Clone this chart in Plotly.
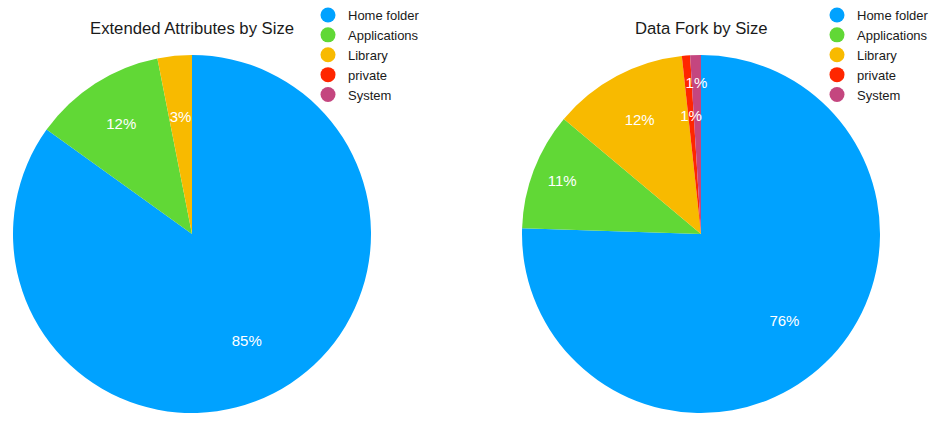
import plotly.graph_objects as go

labels = ["Home folder", "Applications", "Library", "private", "System"]
colors = ["#00A2FF", "#61D836", "#F8BA00", "#FF2600", "#C4467F"]

ext_attr_values = [85.0, 12.0, 3.1, 0.0, 0.0]
data_fork_values = [75.6, 10.6, 12.2, 0.74, 0.97]

titles = ["Extended Attributes by Size", "Data Fork by Size"]

W, H = 939, 423
FONT = "Liberation Sans, Arial, Helvetica, sans-serif"
R = 179          # pie radius in px
CY = 234         # pie centre y in px (from top)

# label placement layers: (layer radius px, hole, indices of slices labelled in this layer)
ext_label_layers = [(R, 0.34, [0, 1]), (130, 0.0, [2])]
fork_label_layers = [(R, 0.34, [0, 2]), (R, 0.66, [1]), (122, 0.0, [3]), (156, 0.0, [4])]

fig = go.Figure()

def dom(cx, r):
    return dict(x=[(cx - r) / W, (cx + r) / W], y=[1 - (CY + r) / H, 1 - (CY - r) / H])

def add_pie(values, cx, layers):
    common = dict(labels=labels, values=values, sort=False, direction="clockwise",
                  rotation=0, showlegend=False)
    fig.add_trace(go.Pie(marker=dict(colors=colors, line=dict(width=0)),
                         textinfo="none", hoverinfo="label+percent",
                         domain=dom(cx, R), **common))
    for r, hole, idx in layers:
        tt = ["%{percent:.0%}" if (i in idx and v > 0) else "" for i, v in enumerate(values)]
        fig.add_trace(go.Pie(
            marker=dict(colors=["rgba(0,0,0,0)"] * len(labels), line=dict(width=0)),
            hole=hole, texttemplate=tt, textposition="inside",
            insidetextorientation="horizontal",
            textfont=dict(family=FONT, size=15, color="white"),
            hoverinfo="skip", domain=dom(cx, r), **common))

add_pie(ext_attr_values, 192, ext_label_layers)
add_pie(data_fork_values, 701, fork_label_layers)

for lg in ["legend", "legend2"]:
    for lab, col in zip(labels, colors):
        fig.add_trace(go.Scatter(
            x=[None], y=[None], mode="markers", name=lab, legend=lg,
            marker=dict(symbol="circle", size=15, color=col),
            showlegend=True, hoverinfo="skip",
        ))

fig.update_xaxes(visible=False)
fig.update_yaxes(visible=False)

for i, t in enumerate(titles):
    cx = [192, 701][i]
    fig.add_annotation(text=t, x=cx / W, y=1 - 29 / H, xref="paper", yref="paper",
                       xanchor="center", yanchor="middle", showarrow=False,
                       font=dict(family=FONT, size=16.7, color="#1a1a1a"))

legend_common = dict(font=dict(family=FONT, size=13, color="#1a1a1a"), yanchor="top", y=1.0,
                     xanchor="left", bgcolor="rgba(0,0,0,0)", tracegroupgap=0, itemclick=False)
fig.update_layout(
    width=W, height=H, margin=dict(l=0, r=0, t=0, b=0),
    paper_bgcolor="white", plot_bgcolor="white",
    uniformtext=dict(minsize=15, mode="show"),
    legend=dict(x=308 / W, **legend_common),
    legend2=dict(x=817 / W, **legend_common),
)

fig.write_html("out.html", config={"displayModeBar": False},
               post_script="document.body.style.margin='0';")
